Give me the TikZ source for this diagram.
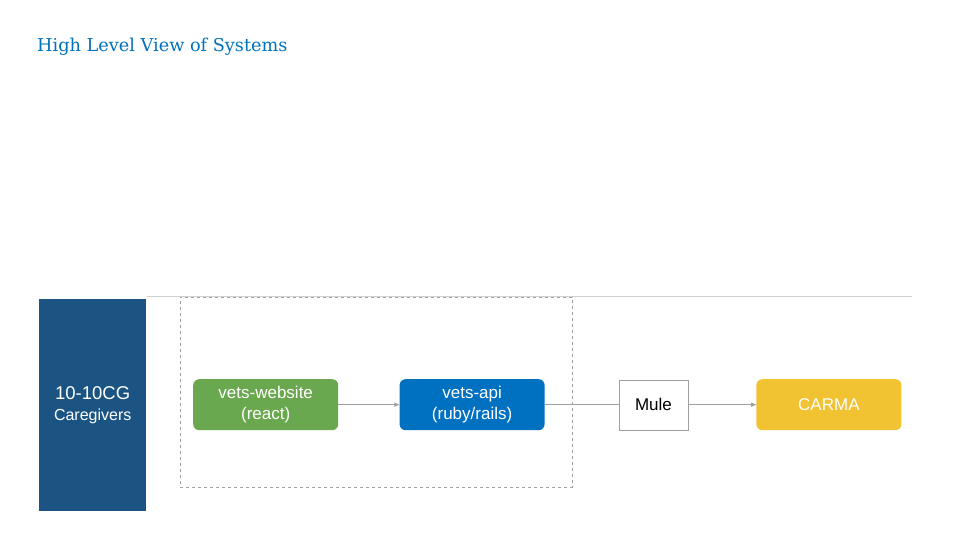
\documentclass[tikz,border=0pt]{standalone}
\usepackage{fontspec}
\setmainfont{Liberation Sans}
\newfontfamily\titlefont{DejaVu Serif}
\usepackage{xcolor}
\usepackage{tikz}
\usetikzlibrary{arrows.meta, positioning}
\definecolor{cgblue}{RGB}{27,84,131}
\definecolor{webgreen}{RGB}{106,168,79}
\definecolor{apiblue}{RGB}{0,112,192}
\definecolor{carmayellow}{RGB}{241,194,50}
\definecolor{titleblue}{RGB}{0,113,188}
\definecolor{linegray}{RGB}{160,160,160}

\begin{document}
\begin{tikzpicture}[
    x=1pt, y=-1pt,
    sysbox/.style={rectangle, rounded corners=6pt, minimum width=145pt, minimum height=51pt, inner sep=0pt, align=center, text=white, font=\fontsize{17}{21}\selectfont},
    twoline/.style={execute at begin node=\rule{0pt}{18pt}},
    mulebox/.style={rectangle, draw=linegray, fill=white, minimum width=69pt, minimum height=50pt, inner sep=0pt, font=\fontsize{17}{21}\selectfont},
    arrow/.style={-{Triangle[length=5pt, width=4pt]}, linegray, line width=0.8pt},
    link/.style={linegray, line width=0.8pt}
]
\useasboundingbox (0,0) rectangle (960,540);

% Title
\node[anchor=base west, text=titleblue, font=\titlefont\fontsize{17.7}{21}\selectfont, inner sep=0pt] (title) at (37,52) {High Level View of Systems};

% Separator
\draw[line width=0.8pt, black!18] (147,296) -- (912,296);

% Caregiver bar
\node[rectangle, fill=cgblue, minimum width=107pt, minimum height=212pt, inner sep=0pt, anchor=north west, align=center, text=white, font=\fontsize{16}{21}\selectfont] (cg) at (39,299)
    {{\fontsize{18.5}{21}\selectfont 10-10CG}\\Caregivers};

% Dashed frame around the VA systems
\node[rectangle, draw=linegray, dashed, line width=0.8pt, minimum width=392pt, minimum height=190pt, anchor=north west, inner sep=0pt] (frame) at (180,297) {};

% Systems
\node[sysbox, twoline, fill=webgreen, anchor=north west] (website) at (193,379) {vets-website\\(react)};
\node[sysbox, twoline, fill=apiblue, right=61pt of website] (api) {vets-api\\(ruby/rails)};
\node[mulebox, right=74pt of api] (mule) {Mule};
\node[sysbox, fill=carmayellow, right=68pt of mule] (carma) {CARMA};

% Connections
\draw[arrow] (website) -- (api);
\draw[link] (api) -- (mule);
\draw[arrow] (mule) -- (carma);

\end{tikzpicture}
\end{document}
